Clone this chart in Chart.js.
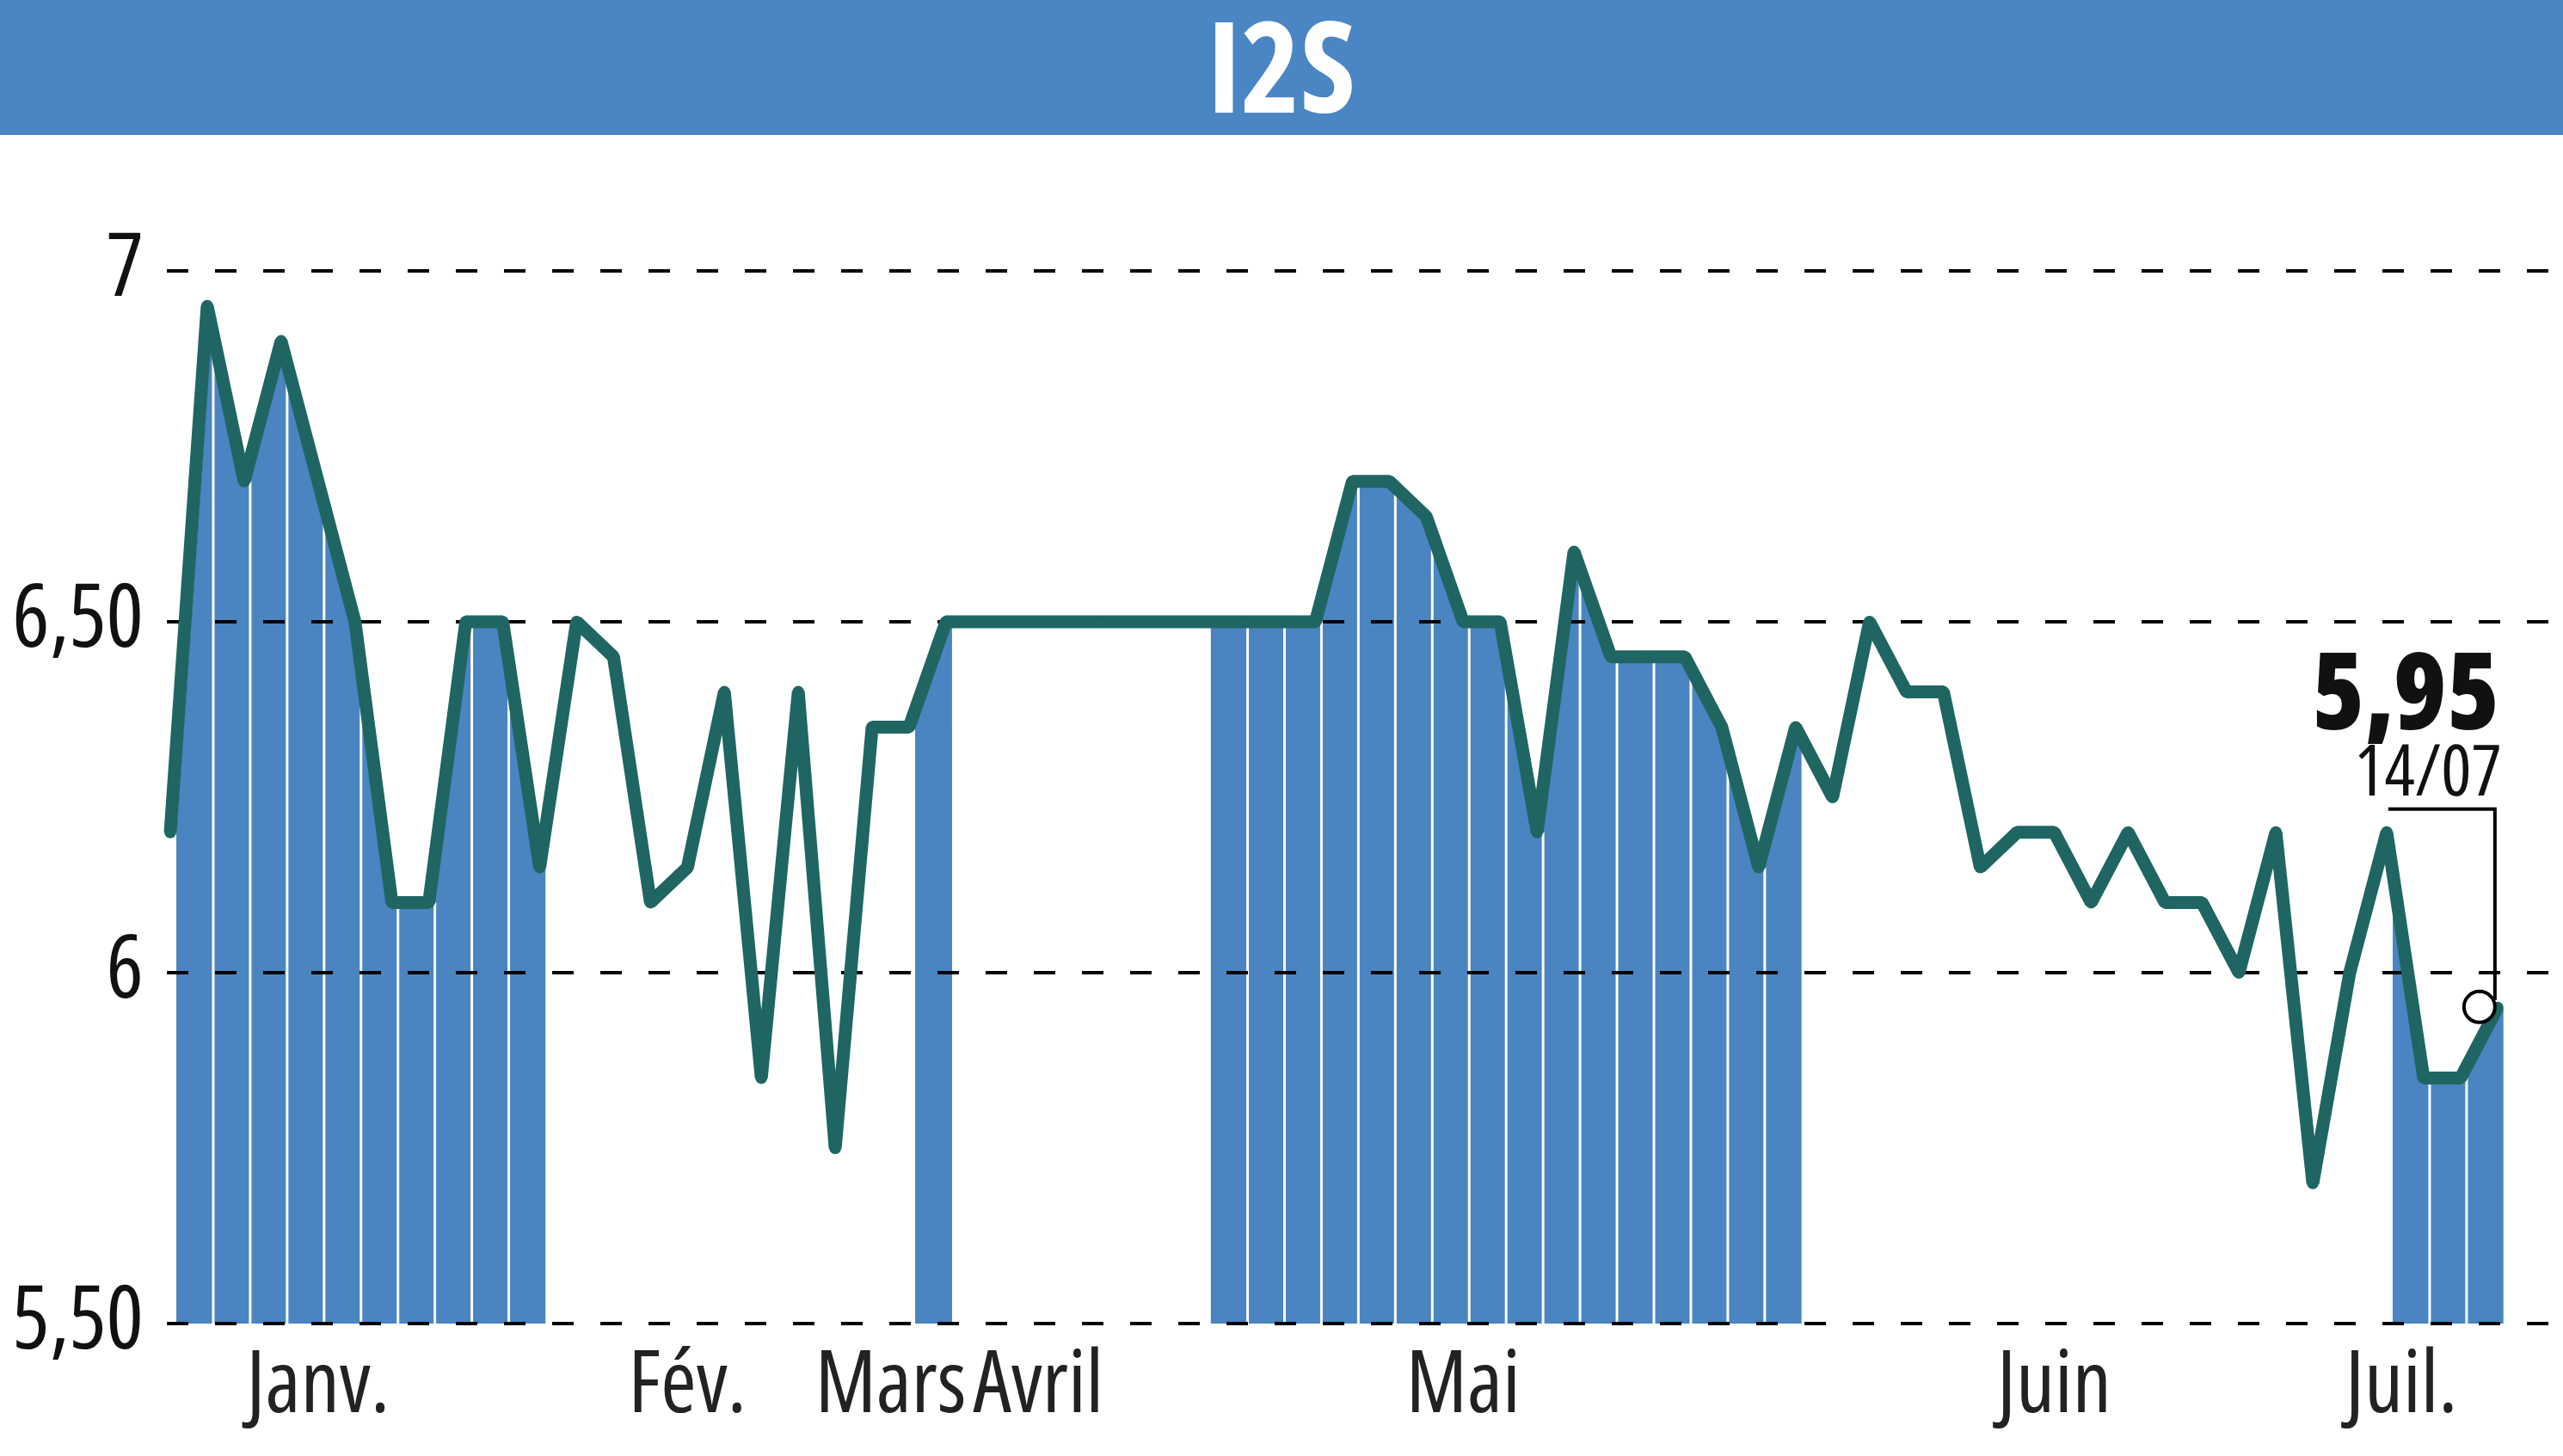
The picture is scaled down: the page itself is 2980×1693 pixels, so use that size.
<!DOCTYPE html>
<html><head><meta charset="utf-8">
<script src="https://cdn.jsdelivr.net/npm/chart.js@4/dist/chart.umd.min.js"></script>
<style>html,body{margin:0;padding:0;background:#fff;overflow:hidden}#wrap{position:relative;width:2980px;height:1693px}</style>
</head><body><div id="wrap"><canvas id="c" width="2980" height="1693"></canvas></div>
<script>
// ---- data ----
const chartTitle = 'I2S';
const prices = [6.20,6.95,6.70,6.90,6.70,6.50,6.10,6.10,6.50,6.50,
                6.15,6.50,6.45,6.10,6.15,6.40,5.85,6.40,5.75,6.35,
                6.35,6.50,6.50,6.50,6.50,6.50,6.50,6.50,6.50,6.50,
                6.50,6.50,6.70,6.70,6.65,6.50,6.50,6.20,6.60,6.45,
                6.45,6.45,6.35,6.15,6.35,6.25,6.50,6.40,6.40,6.15,
                6.20,6.20,6.10,6.20,6.10,6.10,6.00,6.20,5.70,6.00,
                6.20,5.85,5.85,5.95];
const shadedRanges = [[0,10],[20,21],[28,44],[60,63]];
const monthLabels = ['Janv.','Fév.','Mars','Avril','Mai','Juin','Juil.'];
const monthTickPos = [4, 14, 19.5, 23.5, 35, 51, 60.4];
const yTickValues = [5.5, 6, 6.5, 7];
const yTickLabels = ['5,50','6','6,50','7'];
const lastDate = '14/07';
const lastLabel = prices[prices.length-1].toFixed(2).replace('.', ',');

// ---- style ----
const FAMILY = "'Open Sans','Roboto Condensed',sans-serif";
const LINE = '#1f6663', BLUE = '#4a84c1', BAND = '#4a86c3';
const X_MIN = -0.093, X_MAX = 64.61, SHIFT = 0.163;

const inShade = i => shadedRanges.some(([a,b]) => i >= a && i <= b);
const linePts = prices.map((v,i) => ({x:i, y:v}));
const shadePts = prices.map((v,i) => ({x:i, y: inShade(i) ? v : null}));

const bandPlugin = {
  id:'band',
  beforeDraw(chart){
    const {ctx, width} = chart;
    ctx.save(); ctx.fillStyle = BAND; ctx.fillRect(0,0,width,157); ctx.restore();
  }
};

const sepPlugin = {
  id:'sep',
  afterDatasetDraw(chart, args){
    if (args.index !== 1) return;
    const {ctx, chartArea} = chart;
    const xs = chart.scales.x2, ys = chart.scales.y;
    ctx.save();
    ctx.strokeStyle = '#fff'; ctx.lineWidth = 3;
    shadedRanges.forEach(([a,b]) => {
      for (let i = a+1; i < b; i++) {
        const px = xs.getPixelForValue(i);
        ctx.beginPath();
        ctx.moveTo(px, ys.getPixelForValue(yTickValues[0]) + 2);
        ctx.lineTo(px, ys.getPixelForValue(prices[i]));
        ctx.stroke();
      }
    });
    // grid lines visible over the shaded area
    ctx.strokeStyle = '#000'; ctx.lineWidth = 4; ctx.setLineDash([25,31]);
    ys.ticks.forEach(t => {
      const y = Math.round(ys.getPixelForValue(t.value));
      ctx.beginPath(); ctx.moveTo(chartArea.left, y); ctx.lineTo(chartArea.right, y); ctx.stroke();
    });
    ctx.restore();
  }
};

const annotPlugin = {
  id:'annot',
  afterDatasetsDraw(chart){
    const {ctx} = chart;
    const xs = chart.scales.x, ys = chart.scales.y;
    const last = prices.length - 1;
    const px = xs.getPixelForValue(last), py = ys.getPixelForValue(prices[last]);
    const cx = px - 21, cy = py - 1, r = 18;
    const hy = py - 231;
    ctx.save();
    ctx.strokeStyle = '#000'; ctx.lineWidth = 4;
    ctx.beginPath(); ctx.moveTo(px - 127, hy); ctx.lineTo(px - 3, hy); ctx.lineTo(px - 3, cy - 8); ctx.stroke();
    ctx.beginPath(); ctx.arc(cx, cy, r, 0, Math.PI*2); ctx.fillStyle = '#fff'; ctx.fill(); ctx.stroke();
    ctx.fillStyle = '#111'; ctx.textAlign = 'right'; ctx.textBaseline = 'alphabetic';
    ctx.font = `800 condensed 124px ${FAMILY}`; ctx.fillText(lastLabel, px + 2, hy - 93);
    ctx.font = `condensed 83px ${FAMILY}`; ctx.fillText(lastDate, px + 5, hy - 16);
    ctx.restore();
  }
};

new Chart(document.getElementById('c'), {
  type:'line',
  data:{ datasets:[
    {label:'Cours', data:linePts, borderColor:LINE, borderWidth:15, borderJoinStyle:'bevel',
     pointRadius:7, pointHoverRadius:7, pointBackgroundColor:LINE, pointBorderWidth:0,
     fill:false, clip:false, tension:0, xAxisID:'x', yAxisID:'y'},
    {label:'Zone', data:shadePts, borderWidth:0, borderColor:'rgba(0,0,0,0)', pointRadius:0,
     backgroundColor:BLUE, fill:'start', spanGaps:false, tension:0, xAxisID:'x2', yAxisID:'y'}
  ]},
  options:{
    responsive:false, animation:false, events:[], devicePixelRatio:1,
    layout:{padding:{left:0, right:0, top:0, bottom:0}},
    plugins:{
      legend:{display:false}, tooltip:{enabled:false},
      title:{display:true, text:chartTitle, color:'#fff',
             font:{family:FAMILY, size:147, weight:'bold condensed', lineHeight:1},
             padding:{top:16, bottom:152}}
    },
    scales:{
      x:{type:'linear', min:X_MIN, max:X_MAX,
         grid:{display:false, drawTicks:false}, border:{display:false},
         afterFit(s){ s.height = 154; },
         afterBuildTicks(s){ s.ticks = monthTickPos.map(v => ({value:v})); },
         ticks:{autoSkip:false, maxRotation:0, minRotation:0, padding:15, color:'#222',
                font:{family:FAMILY, size:100, weight:'condensed'}, callback:(v,i) => monthLabels[i]}},
      x2:{type:'linear', display:false, min:X_MIN - SHIFT, max:X_MAX - SHIFT},
      y:{type:'linear', min:5.5, max:7,
         afterFit(s){ s.width = 194; },
         afterBuildTicks(s){ s.ticks = yTickValues.map(v => ({value:v})); },
         grid:{color:'#000', lineWidth:4, drawTicks:false},
         border:{display:false, dash:[25,31]},
         ticks:{padding:27, color:'#111', font:{family:FAMILY, size:102, weight:'condensed'}, callback:(v,i) => yTickLabels[i]}}
    }
  },
  plugins:[bandPlugin, sepPlugin, annotPlugin]
});
</script></body></html>
